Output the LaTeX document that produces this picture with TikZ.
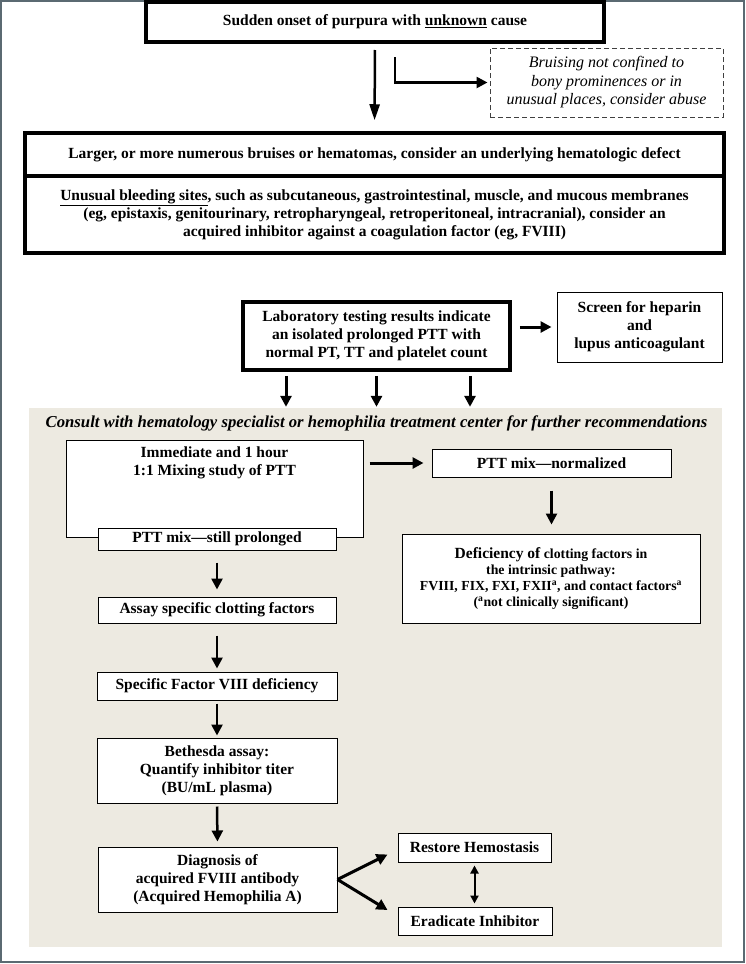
\documentclass[tikz,border=0pt]{standalone}
\usepackage{fontspec}
\setmainfont{Liberation Serif}
\usetikzlibrary{arrows.meta}
\definecolor{panelbg}{HTML}{EDEAE1}
\definecolor{framegray}{HTML}{5B6A72}
\tikzset{box/.style={draw, line width=1pt, fill=white, align=center, inner sep=1pt},
  heavybox/.style={box, line width=3.5pt},
  arr/.style={line width=2.5pt, -{Triangle[length=11pt,width=11pt]}},
  bigarr/.style={line width=2.5pt, -{Triangle[length=16pt,width=10pt]}},
  dblarr/.style={line width=2pt, {Triangle[length=8pt,width=8pt]}-{Triangle[length=8pt,width=8pt]}}}

\begin{document}
\begin{tikzpicture}[x=1pt, y=-1pt, font=\fontsize{15.5}{18}\selectfont\bfseries]
      \useasboundingbox (0,0) rectangle (746,964);
      \draw [framegray, line width=2pt] (1,1) rectangle (744,962);

      \node (onset) [heavybox, line width=4pt, minimum width=458pt, minimum height=40pt] at (375,22) {Sudden onset of purpura with \underline{unknown} cause};
      \node (abuse) [box, draw=black!75, dash pattern=on 5pt off 3pt, font=\fontsize{16}{18.5}\selectfont\itshape, minimum width=233pt, minimum height=69pt] at (606.5,82.5) {Bruising not confined to\\bony prominences or in\\unusual places, consider abuse};

      \node (larger) [heavybox, minimum width=699pt, minimum height=43pt] at (374.5,154.5) {Larger, or more numerous bruises or hematomas, consider an underlying hematologic defect};
      \node (unusual) [heavybox, minimum width=699pt, minimum height=77pt] at (374.5,214.5) {\underline{Unusual bleeding sites}, such as subcutaneous, gastrointestinal, muscle, and mucous membranes\\(eg, epistaxis, genitourinary, retropharyngeal, retroperitoneal, intracranial), consider an\\acquired inhibitor against a coagulation factor (eg, FVIII)};

      \draw [bigarr, shorten <=6pt, shorten >=11pt] (onset.south) -- (larger.north);
      \draw [arr, shorten <=13pt, shorten >=2pt] ([xshift=20pt]onset.south) |- (abuse.west);

      \node (lab) [heavybox, minimum width=267pt, minimum height=68pt] at (376.5,336) {Laboratory testing results indicate\\an isolated prolonged PTT with\\normal PT, TT and platelet count};
      \node (screen) [box, minimum width=165pt, minimum height=70pt] at (639.5,327) {Screen for heparin\\and\\lupus anticoagulant};
      \draw [arr, line width=3pt, shorten <=8pt, shorten >=5pt] (lab.east |- screen.west) -- (screen.west);

      \node (panel) [fill=panelbg, minimum width=693pt, minimum height=539pt, inner sep=0pt] at (375.5,677.5) {};
      \foreach \dx in {-90.5,0,93.5}
        \draw [arr, line width=3pt, shorten <=4pt, shorten >=1pt] ([xshift=\dx pt]lab.south) -- ([xshift=\dx pt]lab.south |- panel.north);
      \node (consult) [font=\fontsize{16.7}{18}\selectfont\bfseries\itshape] at (376.5,423) {Consult with hematology specialist or hemophilia treatment center for further recommendations};

      \node (mix) [box, minimum width=297pt, minimum height=97pt] at (214.5,488.5) {};
      \node (mixtext) [align=center, anchor=north] at ([yshift=-4pt]mix.north) {Immediate and 1 hour\\1:1 Mixing study of PTT};
      \node (still) [box, minimum width=238pt, minimum height=22pt] at (217,539) {PTT mix—still prolonged};
      \node (norm) [box, minimum width=239pt, minimum height=28pt] at (551.5,463) {PTT mix—normalized};
      \draw [arr, line width=3pt, shorten <=6pt, shorten >=8pt] (mix.east |- norm.west) -- (norm.west);
      \node (defic) [box, minimum width=298pt, minimum height=89pt, font=\fontsize{13.8}{16}\selectfont\bfseries] at (551,578.5) {{\fontsize{15.5}{16}\selectfont Deficiency of} clotting factors in\\the intrinsic pathway:\\FVIII, FIX, FXI, FXII\textsuperscript{a}, and contact factors\textsuperscript{a}\\(\textsuperscript{a}not clinically significant)};
      \draw [arr, shorten <=13pt, shorten >=9pt] (norm.south) -- (norm.south |- defic.north);

      \node (assay) [box, minimum width=238pt, minimum height=26pt] at (217,610) {Assay specific clotting factors};
      \draw [arr, shorten <=12pt, shorten >=7pt] (still.south) -- (assay.north);
      \node (factor) [box, minimum width=240pt, minimum height=28pt] at (217,686) {Specific Factor VIII deficiency};
      \draw [arr, shorten <=12pt, shorten >=3pt] (assay.south) -- (factor.north);
      \node (bethesda) [box, minimum width=240pt, minimum height=65pt] at (217,770.5) {Bethesda assay:\\Quantify inhibitor titer\\(BU/mL plasma)};
      \draw [arr, shorten <=3pt, shorten >=2pt] (factor.south) -- (bethesda.north);
      \node (diag) [box, minimum width=239pt, minimum height=65pt] at (217.5,879.5) {Diagnosis of\\acquired FVIII antibody\\(Acquired Hemophilia A)};
      \draw [arr, shorten <=3pt, shorten >=5pt] (bethesda.south) -- (diag.north);

      \node (restore) [box, minimum width=153pt, minimum height=29pt] at (474.5,847.5) {Restore Hemostasis};
      \node (eradicate) [box, minimum width=154pt, minimum height=28pt] at (475,921) {Eradicate Inhibitor};
      \draw [arr, line width=3pt] (diag.east) -- ([xshift=-10pt,yshift=-7pt]restore.west);
      \draw [arr, line width=3pt] (diag.east) -- ([xshift=-10pt,yshift=11pt]eradicate.west);
      \draw [dblarr, shorten <=3pt, shorten >=3pt] (restore.south) -- (restore.south |- eradicate.north);

    \end{tikzpicture}
\end{document}
